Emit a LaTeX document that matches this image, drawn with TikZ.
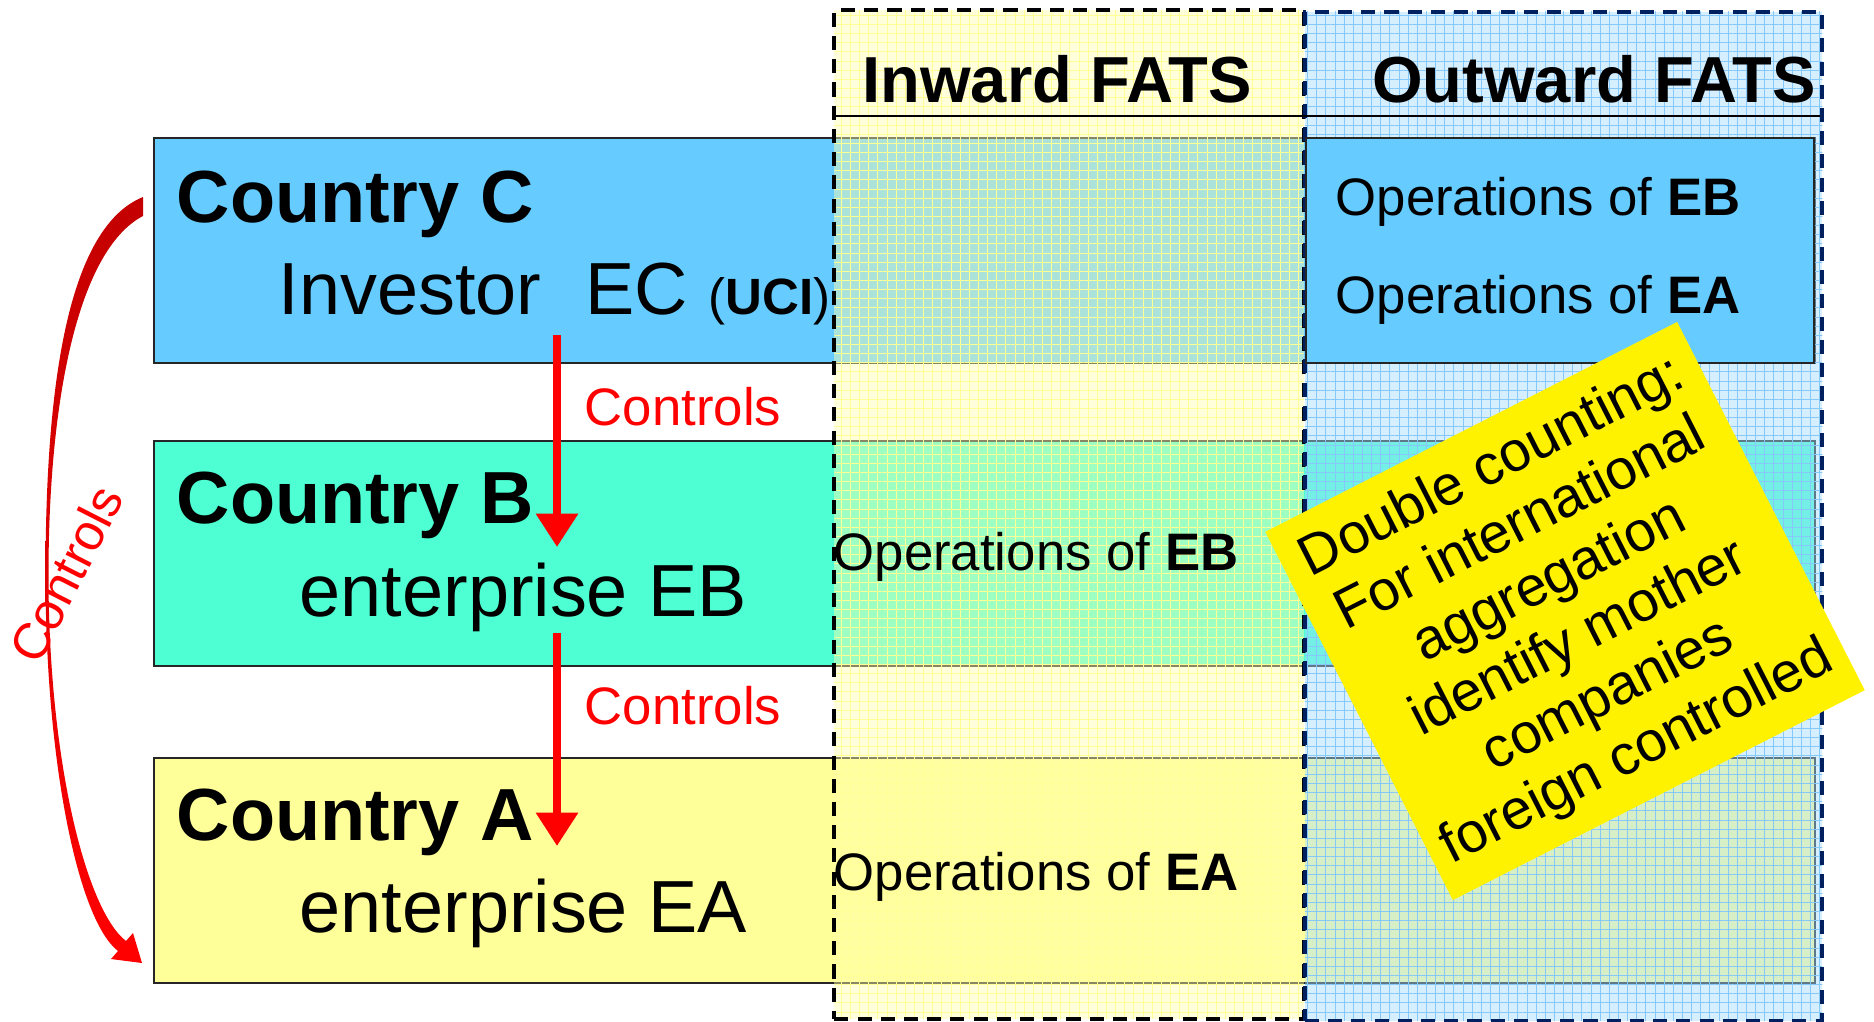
\documentclass[tikz,border=0pt]{standalone}
\usepackage{fontspec}
\setmainfont{Liberation Sans}
\usetikzlibrary{arrows.meta,patterns.meta}

\definecolor{ccolor}{RGB}{102,204,255}
\definecolor{bcolor}{RGB}{77,255,210}
\definecolor{acolor}{RGB}{255,255,153}
\definecolor{inwardfill}{RGB}{255,255,175}
\definecolor{inwardgrid}{RGB}{255,255,150}
\definecolor{outwardfill}{RGB}{165,220,255}
\definecolor{outwardgrid}{RGB}{135,200,250}
\definecolor{navy}{RGB}{0,32,96}
\definecolor{ctlred}{RGB}{255,0,0}
\definecolor{darkred}{RGB}{195,0,0}

\tikzset{
  country/.style={draw=black!85, line width=0.6pt, anchor=north west,
    minimum width=16.60cm, minimum height=2.25cm, inner sep=0pt},
  fatscol/.style={anchor=north west, minimum height=10.08cm, inner sep=0pt,
    line width=1.1pt, dash pattern=on 4pt off 2.6pt, fill opacity=0.45},
  bigbold/.style={anchor=base west, inner sep=0pt, font=\fontsize{21}{25}\selectfont\bfseries},
  big/.style={anchor=base west, inner sep=0pt, font=\fontsize{21}{25}\selectfont},
  ops/.style={anchor=base west, inner sep=0pt, font=\fontsize{15}{18}\selectfont},
  head/.style={anchor=base, inner sep=0pt, font=\fontsize{18.5}{22}\selectfont\bfseries},
  ctllabel/.style={anchor=base west, inner sep=0pt, text=ctlred, font=\fontsize{15}{18}\selectfont},
  ctlarrow/.style={draw=ctlred, line width=2.3pt, -{Triangle[width=11.5pt,length=9.5pt]}},
  note/.style={fill=yellow, rotate=27, minimum width=4.62cm, minimum height=4.13cm,
    align=center, inner sep=0pt, font=\fontsize{16}{18.2}\selectfont}
}

\begin{document}
\begin{tikzpicture}[x=0.01cm, y=-0.01cm]
  \useasboundingbox (0,0) rectangle (1874,1021);

  % country rows
  \node[country, fill=ccolor] (rowC) at (153,137) {};
  \node[country, fill=bcolor] (rowB) at (153,440) {};
  \node[country, fill=acolor] (rowA) at (153,757) {};

  % FATS columns
  \node[fatscol, minimum width=4.69cm, draw=black,
        preaction={fill=inwardfill},
        pattern={Hatch[angle=0,distance=2.6pt,line width=0.2pt]}, pattern color=inwardgrid]
        (inward) at (834,10) {};
  \node[fatscol, minimum width=5.17cm, draw=navy,
        preaction={fill=outwardfill},
        pattern={Hatch[angle=0,distance=2.6pt,line width=0.2pt]}, pattern color=outwardgrid]
        (outward) at (1303,10) {};
  \coordinate (hl) at (834,116);
  \coordinate (hr) at (1820,116);
  \draw[line width=0.85pt] (hl) -- (hr);
  \node[country, fill=ccolor, minimum width=5.08cm] (outC) at (1305,137) {};

  \node[head] (inHead) at (1057,102) {Inward FATS};
  \node[head] (outHead) at (1594,102) {Outward FATS};

  % row texts
  \node[bigbold] (cC) at (176,222) {Country C};
  \node[big] (invEC) at (278,314) {Investor\hspace{12.5pt}EC {\fontsize{14.5}{17}\selectfont(\textbf{UCI})}};
  \node[bigbold] (cB) at (176,523) {Country B};
  \node[big] (entB) at (299,616) {enterprise EB};
  \node[bigbold] (cA) at (176,840) {Country A};
  \node[big] (entA) at (299,932) {enterprise EA};

  \node[ops] (outEB) at (1335,215) {Operations of \textbf{EB}};
  \node[ops] (outEA) at (1335,313) {Operations of \textbf{EA}};
  \node[ops] (inEB) at (833,570) {Operations of \textbf{EB}};
  \node[ops] (inEA) at (833,890) {Operations of \textbf{EA}};

  % control arrows
  \coordinate (c1) at (557,335);
  \coordinate (b1) at (557,547);
  \coordinate (b2) at (557,633);
  \coordinate (a1) at (557,846);
  \draw[ctlarrow] (c1) -- (b1);
  \draw[ctlarrow] (b2) -- (a1);
  \node[ctllabel] (ctl1) at (584,425) {Controls};
  \node[ctllabel] (ctl2) at (584,724) {Controls};

  \shade[top color=darkred, bottom color=ctlred]
    (143,197) .. controls (64,229) and (45.5,400) .. (45.5,575)
    .. controls (45.5,762) and (78,920) .. (118,951)
    -- (111,959) -- (142,963) -- (133,933) -- (126,941)
    .. controls (86,910) and (48.5,760) .. (48.5,575)
    .. controls (48.5,400) and (78,250) .. (143,216) -- cycle;
  \node[rotate=63, inner sep=0pt, text=ctlred, font=\fontsize{14.5}{17}\selectfont]
    (ctl3) at (66,574) {Controls};

  % double counting note
  \node[note] (dbl) at (1565,611) {Double counting:\\For international\\aggregation\\identify mother\\companies\\foreign controlled};
\end{tikzpicture}
\end{document}
